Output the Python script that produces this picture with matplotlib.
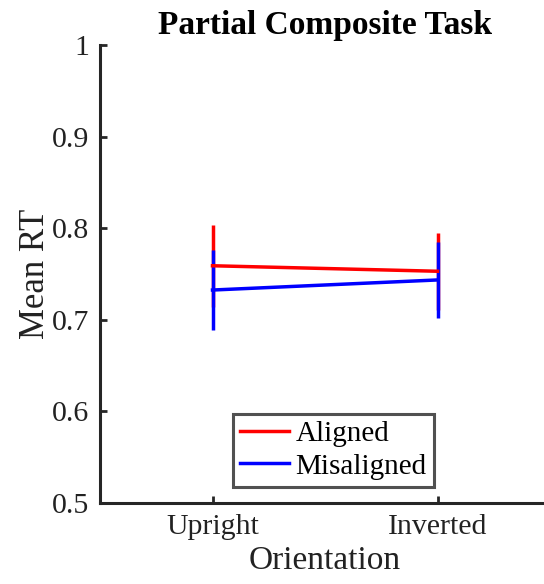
import matplotlib
matplotlib.use('Agg')
import matplotlib.pyplot as plt
from matplotlib.lines import Line2D

plt.rcParams['font.family'] = ['Liberation Serif', 'DejaVu Serif']

orientations = ['Upright', 'Inverted']
aligned_mean = [0.759, 0.753]
aligned_err = [0.045, 0.042]
misaligned_mean = [0.7325, 0.7435]
misaligned_err = [0.044, 0.0415]

x = [1, 2]
dark = '#262626'
red = (1, 0, 0)
blue = (0, 0, 1)

fig = plt.figure(figsize=(5.44, 5.84), dpi=100)
ax = fig.add_axes([100 / 544, 81 / 584, 450 / 544, 458 / 584])

ax.errorbar(x, aligned_mean, yerr=aligned_err, color=red, lw=2.5,
            elinewidth=2.5, capsize=0)
ax.errorbar(x, misaligned_mean, yerr=misaligned_err, color=blue, lw=2.5,
            elinewidth=2.5, capsize=0)

ax.set_xlim(0.5, 2.5)
ax.set_ylim(0.5, 1.0)
ax.set_xticks(x)
ax.set_xticklabels(orientations)
ax.set_yticks([0.5, 0.6, 0.7, 0.8, 0.9, 1.0])
ax.set_yticklabels(['0.5', '0.6', '0.7', '0.8', '0.9', '1'])

for side in ['top', 'right']:
    ax.spines[side].set_visible(False)
for side in ['left', 'bottom']:
    ax.spines[side].set_color(dark)
    ax.spines[side].set_linewidth(2.2)

ax.tick_params(direction='in', length=5, width=2, colors=dark,
               labelsize=21.5, labelcolor='#222222', pad=8)

ax.set_xlabel('Orientation', fontsize=24, color='#222222', labelpad=4)
ax.set_ylabel('Mean RT', fontsize=25, color='#222222', labelpad=0)
ax.set_title('Partial Composite Task', fontsize=24, fontweight='bold', pad=8)

handles = [Line2D([], [], color=red, lw=2.5), Line2D([], [], color=blue, lw=2.5)]
leg = ax.legend(handles, ['Aligned', 'Misaligned'], loc='lower center',
                bbox_to_anchor=(0.518, 0.035), fontsize=21,
                frameon=True, fancybox=False, handlelength=1.7, handletextpad=0.2,
                borderpad=0.25, labelspacing=0.2, borderaxespad=0)
leg.get_frame().set_edgecolor(dark)
leg.get_frame().set_linewidth(2.2)

fig.savefig('out.png', dpi=100)
